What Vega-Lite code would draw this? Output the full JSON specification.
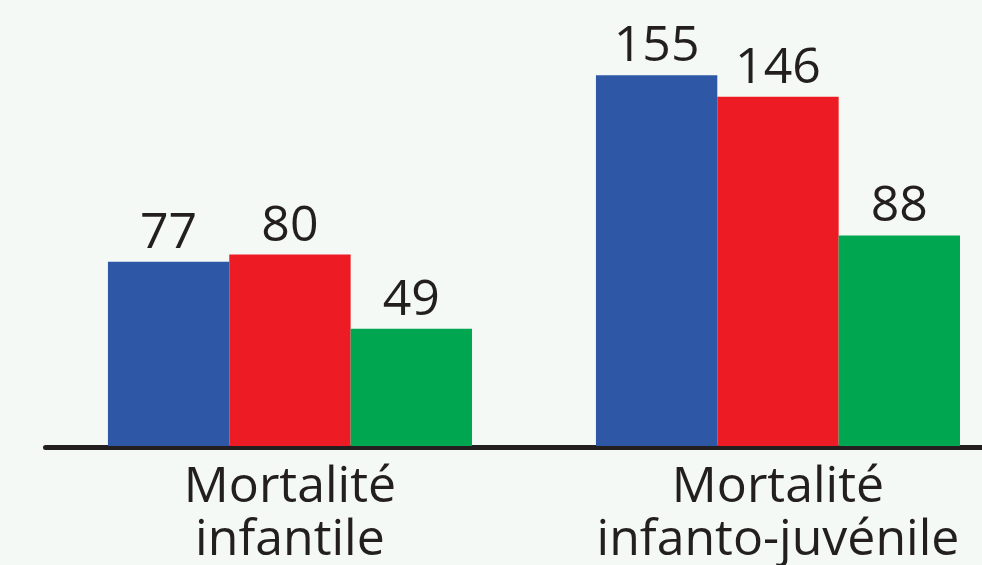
{
  "$schema": "https://vega.github.io/schema/vega-lite/v6.json",
  "width": 937,
  "height": 446,
  "autosize": "none",
  "padding": {"left": 45, "top": 0, "right": 0, "bottom": 119},
  "background": "#f4f9f5",
  "data": {
    "values": [
      {"indicateur": "Mortalité infantile", "serie": "A", "valeur": 77},
      {"indicateur": "Mortalité infantile", "serie": "B", "valeur": 80},
      {"indicateur": "Mortalité infantile", "serie": "C", "valeur": 49},
      {"indicateur": "Mortalité infanto-juvénile", "serie": "A", "valeur": 155},
      {"indicateur": "Mortalité infanto-juvénile", "serie": "B", "valeur": 146},
      {"indicateur": "Mortalité infanto-juvénile", "serie": "C", "valeur": 88}
    ]
  },
  "encoding": {
    "x": {
      "field": "indicateur",
      "type": "nominal",
      "sort": ["Mortalité infantile", "Mortalité infanto-juvénile"],
      "scale": {"paddingInner": 0.254, "paddingOuter": 0.087, "align": 0.741},
      "axis": {
        "title": null,
        "ticks": false,
        "domainColor": "#231f20",
        "domainWidth": 5,
        "domainCap": "round",
        "offset": 1,
        "labelAngle": 0,
        "labelFont": "Open Sans",
        "labelFontSize": 50,
        "labelColor": "#231f20",
        "labelBaseline": "alphabetic",
        "labelPadding": 54,
        "labelLineHeight": 53,
        "labelLimit": 0,
        "labelExpr": "split(datum.label, ' ')"
      }
    },
    "xOffset": {"field": "serie", "type": "nominal", "sort": ["A", "B", "C"]},
    "y": {
      "field": "valeur",
      "type": "quantitative",
      "scale": {"domain": [0, 186.4], "nice": false, "zero": true},
      "axis": null
    }
  },
  "layer": [
    {
      "mark": {"type": "bar"},
      "encoding": {
        "color": {
          "field": "serie",
          "type": "nominal",
          "scale": {"domain": ["A", "B", "C"], "range": ["#2e58a6", "#ed1c24", "#00a650"]},
          "legend": null
        }
      }
    },
    {
      "mark": {
        "type": "text",
        "baseline": "alphabetic",
        "dy": -14,
        "font": "Open Sans",
        "fontSize": 50,
        "color": "#231f20"
      },
      "encoding": {"text": {"field": "valeur", "type": "quantitative"}}
    }
  ],
  "config": {"view": {"stroke": null}}
}
